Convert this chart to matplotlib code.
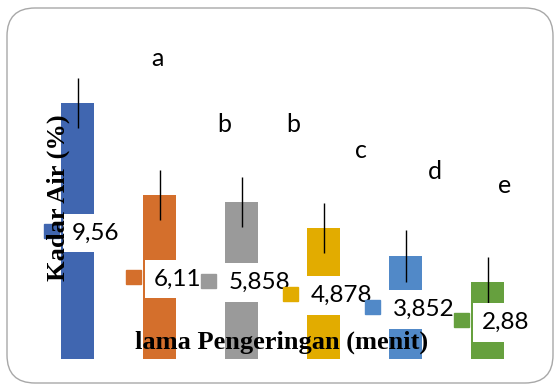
import matplotlib
matplotlib.use('Agg')
import matplotlib.pyplot as plt
from matplotlib.patches import Rectangle, FancyBboxPatch

# data
kadar_air = [9.56, 6.11, 5.858, 4.878, 3.852, 2.88]
err = [0.93, 0.93, 0.95, 0.93, 0.97, 0.93]
value_labels = ['9,56', '6,11', '5,858', '4,878', '3,852', '2,88']
letters = ['a', 'b', 'b', 'c', 'd', 'e']
colors = ['#4066B0', '#D46F2C', '#9A9A9A', '#E2AC00', '#5189C8', '#66A03E']

# letter positions (pixels)
letter_px = [(157, 58), (224, 124), (293, 125), (361, 150), (435, 172), (505, 186)]

W, H = 554, 385


def px(x, y):
    return x / W, 1 - y / H


def main():
    fig = plt.figure(figsize=(W / 100, H / 100), dpi=100)

    ymax = 12
    ax = fig.add_axes([36.5 / W, 26 / H, 492 / W, ymax * 26.8 / H])
    ax.set_xlim(-0.5, 5.5)
    ax.set_ylim(0, ymax)
    ax.axis('off')

    x = list(range(len(kadar_air)))
    ax.bar(x, kadar_air, width=0.4, color=colors, zorder=2)
    ax.errorbar(x, kadar_air, yerr=err, fmt='none', ecolor='black',
                elinewidth=1, capsize=0, zorder=2.5)

    texts = []
    for i, v in enumerate(kadar_air):
        t = ax.annotate(value_labels[i], xy=(i, v / 2), xytext=(13, -1.5),
                        textcoords='offset points', ha='center', va='center',
                        fontsize=17.5, family='Lato', color='black', zorder=4,
                        bbox=dict(boxstyle='square,pad=0.36', fc='white', ec='none'))
        texts.append(t)

    fig.canvas.draw()
    renderer = fig.canvas.get_renderer()
    inv = fig.transFigure.inverted()
    for i, t in enumerate(texts):
        bb = t.get_window_extent(renderer)
        cy = (bb.y0 + bb.y1) / 2 + 2
        x1 = bb.x0 - 13
        x0 = x1 - 15
        p0 = inv.transform((x0, cy - 7))
        p1 = inv.transform((x1, cy + 7))
        fig.add_artist(Rectangle(p0, p1[0] - p0[0], p1[1] - p0[1],
                                 transform=fig.transFigure, color=colors[i], zorder=3))

    for s, (lx, ly) in zip(letters, letter_px):
        fx, fy = px(lx, ly)
        fig.text(fx, fy, s, ha='center', va='center', fontsize=18, family='Lato')

    fx, fy = px(58, 197.5)
    fig.text(fx, fy, 'Kadar Air (%)', rotation=90, ha='center', va='center',
             fontsize=19, family='Liberation Serif', fontweight='bold', zorder=5)
    fx, fy = px(282, 342)
    fig.text(fx, fy, 'lama Pengeringan (menit)', ha='center', va='center',
             fontsize=19, family='Liberation Serif', fontweight='bold', zorder=5)

    border = FancyBboxPatch((7, 2), 546, 375, boxstyle='round,pad=0,rounding_size=28',
                            transform=None, fill=False, ec='#A8A8A8', lw=1.0, zorder=6)
    fig.add_artist(border)

    fig.savefig('out.png', dpi=100)


if __name__ == '__main__':
    main()
